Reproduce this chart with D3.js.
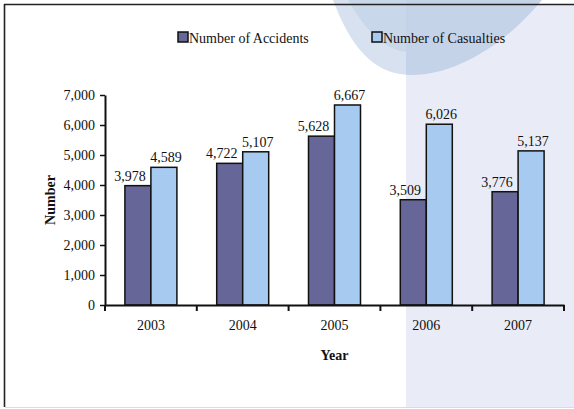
<html>
<head>
  <script src="https://d3js.org/d3.v7.min.js"></script>
  <style>
    body { margin: 0; background: #fff; }
    text { font-family: "Liberation Serif", "Times New Roman", serif; fill: #111; }
  </style>
</head>
<body>
  <div id="chart"></div>
  <script>
    const years = ["2003", "2004", "2005", "2006", "2007"];
    const accidents = [3978, 4722, 5628, 3509, 3776];
    const casualties = [4589, 5107, 6667, 6026, 5137];
    const seriesNames = ["Number of Accidents", "Number of Casualties"];
    const seriesColors = ["#666699", "#a6caf0"];
    const yTicks = [0, 1000, 2000, 3000, 4000, 5000, 6000, 7000];

    const w = 574, h = 409;
    const plotLeft = 105, plotRight = 564, plotTop = 95, plotBottom = 305;

    const svg = d3.select("#chart").append("svg")
      .attr("width", w).attr("height", h);

    // background decoration
    const defs = svg.append("defs");
    defs.append("clipPath").attr("id", "leftPart")
      .append("rect").attr("x", 0).attr("y", 0).attr("width", 406).attr("height", h);
    defs.append("clipPath").attr("id", "rightPart")
      .append("rect").attr("x", 406).attr("y", 0).attr("width", w - 406).attr("height", h);

    svg.append("rect").attr("x", 406).attr("y", 5).attr("width", w - 406).attr("height", 402)
      .attr("fill", "#e9ecf6");

    const outer = "M333,0 C352,50 375,75 412,75 C455,75 505,45 542,0 Z";
    const inner = "M348,0 C368,35 388,52 410,52 C440,52 470,30 490,0 Z";
    svg.append("path").attr("d", outer).attr("fill", "#d7e1ef").attr("clip-path", "url(#leftPart)");
    svg.append("path").attr("d", inner).attr("fill", "#c9d7ea").attr("clip-path", "url(#leftPart)");
    svg.append("path").attr("d", outer).attr("fill", "#c5d3e9").attr("clip-path", "url(#rightPart)");

    // frame
    svg.append("line").attr("x1", 4).attr("x2", w).attr("y1", 4.5).attr("y2", 4.5)
      .attr("stroke", "#222").attr("stroke-width", 1.6);
    svg.append("line").attr("x1", 4.5).attr("x2", 4.5).attr("y1", 4).attr("y2", 407)
      .attr("stroke", "#222").attr("stroke-width", 1.6);
    svg.append("line").attr("x1", 5).attr("x2", w).attr("y1", 407.5).attr("y2", 407.5)
      .attr("stroke", "#dcdcdc").attr("stroke-width", 1);

    const x = d3.scaleBand().domain(years).range([plotLeft, plotRight]).paddingInner(0).paddingOuter(0);
    const xs = d3.scaleBand().domain([0, 1]).range([0, 52]);
    const y = d3.scaleLinear().domain([0, 7000]).range([plotBottom, plotTop]);
    const groupOffset = (x.bandwidth() - 52) / 2;

    const rows = years.map((yr, i) => ({ year: yr, vals: [accidents[i], casualties[i]] }));

    const groups = svg.selectAll(".grp").data(rows).enter().append("g")
      .attr("transform", d => "translate(" + (x(d.year) + groupOffset) + ",0)");

    groups.selectAll("rect").data(d => d.vals).enter().append("rect")
      .attr("x", (d, i) => xs(i))
      .attr("y", d => y(d))
      .attr("width", xs.bandwidth())
      .attr("height", d => plotBottom - y(d))
      .attr("fill", (d, i) => seriesColors[i])
      .attr("stroke", "#111").attr("stroke-width", 1.5);

    groups.selectAll(".lbl").data(d => d.vals).enter().append("text")
      .attr("class", "lbl")
      .attr("x", (d, i) => xs(i) + xs.bandwidth() / 2 + (i === 0 ? -8 : 2))
      .attr("y", d => y(d) - 5)
      .attr("text-anchor", "middle")
      .style("font-size", "14px")
      .text(d => d3.format(",")(d));

    // axes
    const xAxis = d3.axisBottom(x).tickSize(6).tickSizeOuter(0).tickPadding(9);
    const gx = svg.append("g").attr("transform", "translate(0," + plotBottom + ")").call(xAxis);
    gx.select(".domain").attr("stroke", "#111").attr("stroke-width", 2);
    gx.selectAll(".tick line").remove();
    gx.selectAll(".tick text").style("font-size", "14px").attr("fill", "#111");
    gx.selectAll(".bnd").data(d3.range(years.length + 1)).enter().append("line")
      .attr("x1", i => plotLeft + i * x.bandwidth()).attr("x2", i => plotLeft + i * x.bandwidth())
      .attr("y1", 0).attr("y2", 6).attr("stroke", "#111").attr("stroke-width", 2);

    const yAxis = d3.axisLeft(y).tickValues(yTicks).tickFormat(d3.format(",")).tickSize(5).tickSizeOuter(0).tickPadding(5);
    const gy = svg.append("g").attr("transform", "translate(" + plotLeft + ",0)").call(yAxis);
    gy.select(".domain").attr("stroke", "#111").attr("stroke-width", 2);
    gy.selectAll(".tick line").attr("stroke", "#111").attr("stroke-width", 1.5);
    gy.selectAll(".tick text").style("font-size", "14px").attr("fill", "#111");

    svg.append("text")
      .attr("transform", "translate(55," + (plotBottom + plotTop) / 2 + ") rotate(-90)")
      .attr("text-anchor", "middle")
      .style("font-size", "14px").style("font-weight", "bold")
      .text("Number");

    svg.append("text")
      .attr("x", (plotLeft + plotRight) / 2).attr("y", 360)
      .attr("text-anchor", "middle")
      .style("font-size", "14px").style("font-weight", "bold")
      .text("Year");

    // legend
    const legendX = [178, 372];
    const legend = svg.selectAll(".legend").data(seriesNames).enter().append("g")
      .attr("transform", (d, i) => "translate(" + legendX[i] + ",32)");
    legend.append("rect").attr("width", 10).attr("height", 10)
      .attr("fill", (d, i) => seriesColors[i]).attr("stroke", "#111").attr("stroke-width", 1.5);
    legend.append("text").attr("x", 11).attr("y", 10.5)
      .style("font-size", "14px")
      .text(d => d);
  </script>
</body>
</html>
